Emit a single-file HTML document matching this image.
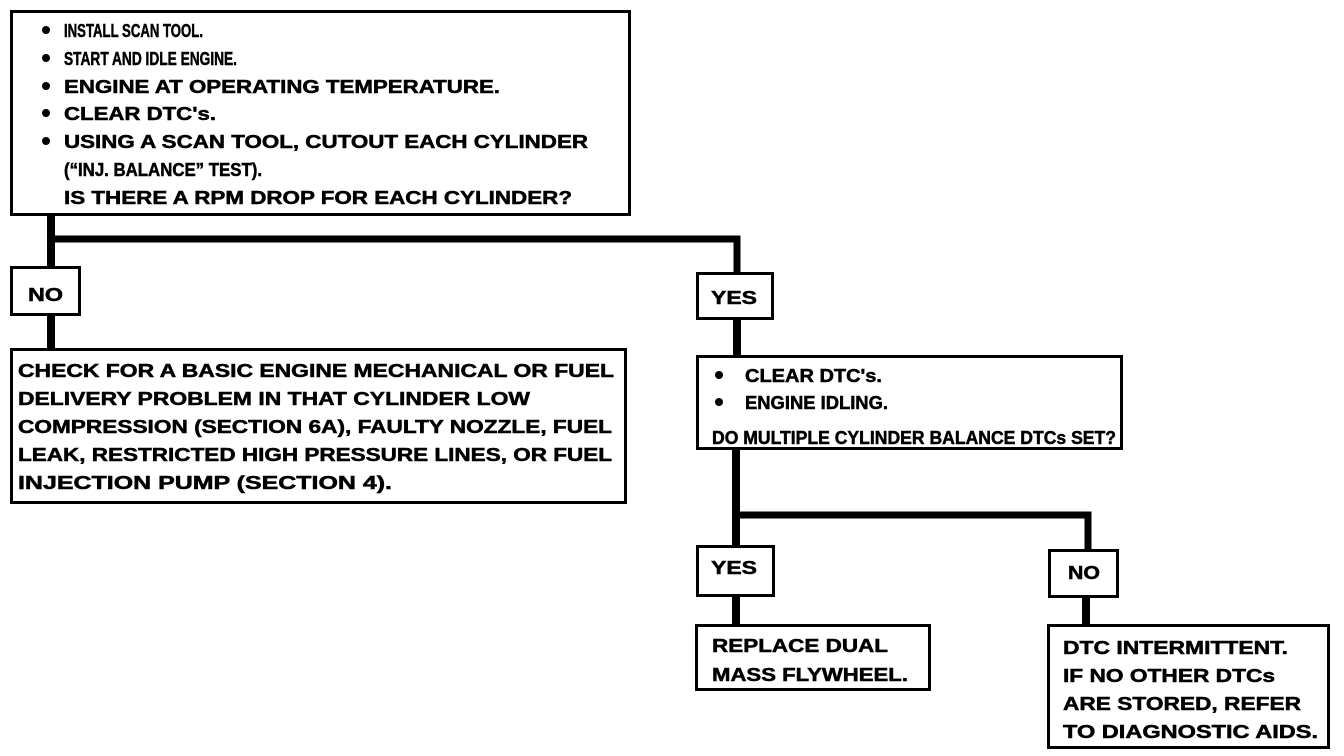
<!DOCTYPE html>
<html><head><meta charset="utf-8"><style>
html,body{margin:0;padding:0;background:#fff;}
svg{display:block}
text{font-family:"Liberation Sans",Arial,sans-serif;font-weight:bold;font-size:18px;fill:#000;stroke:#000;stroke-width:0.5px;}
</style></head><body>
<svg width="1344" height="756" viewBox="0 0 1344 756" xmlns="http://www.w3.org/2000/svg">
<g fill="none" stroke="#000">
<path d="M51 216 V348" stroke-width="8"/>
<path d="M51 239 H737 V272" stroke-width="7"/>
<path d="M737 319 V355" stroke-width="8"/>
<path d="M736 448 V625" stroke-width="8"/>
<path d="M736 515 H1088 V550" stroke-width="7"/>
<path d="M1086 596 V625" stroke-width="8"/>
<g stroke-width="3" fill="#fff">
<rect x="11.5" y="11.5" width="618" height="203"/>
<rect x="11.5" y="267.5" width="68" height="47"/>
<rect x="11.5" y="349.5" width="614" height="153"/>
<rect x="697.5" y="273.5" width="75" height="45"/>
<rect x="697.5" y="356.5" width="424" height="92"/>
<rect x="697.5" y="546.5" width="76" height="49"/>
<rect x="1049.5" y="550.5" width="68" height="46"/>
<rect x="696.5" y="625.5" width="233" height="64"/>
<rect x="1048.5" y="625.5" width="280" height="122"/>
</g>
</g>
<g fill="#000">
<circle cx="46" cy="30" r="4"/><circle cx="46" cy="58" r="4"/><circle cx="46" cy="86" r="4"/><circle cx="46" cy="113" r="4"/><circle cx="46" cy="141" r="4"/>
<circle cx="719" cy="375" r="4"/><circle cx="719" cy="402" r="4"/>
</g>
<text x="64" y="37" textLength="139" lengthAdjust="spacingAndGlyphs">INSTALL SCAN TOOL.</text>
<text x="64" y="65" textLength="173" lengthAdjust="spacingAndGlyphs">START AND IDLE ENGINE.</text>
<text x="64" y="93" textLength="436" lengthAdjust="spacingAndGlyphs">ENGINE AT OPERATING TEMPERATURE.</text>
<text x="64" y="120" textLength="152" lengthAdjust="spacingAndGlyphs">CLEAR DTC's.</text>
<text x="64" y="148" textLength="524" lengthAdjust="spacingAndGlyphs">USING A SCAN TOOL, CUTOUT EACH CYLINDER</text>
<text x="64" y="176" textLength="198" lengthAdjust="spacingAndGlyphs">(“INJ. BALANCE” TEST).</text>
<text x="64" y="204" textLength="508" lengthAdjust="spacingAndGlyphs">IS THERE A RPM DROP FOR EACH CYLINDER?</text>
<text x="28" y="301" textLength="35" lengthAdjust="spacingAndGlyphs">NO</text>
<text x="18" y="377" textLength="596" lengthAdjust="spacingAndGlyphs">CHECK FOR A BASIC ENGINE MECHANICAL OR FUEL</text>
<text x="18" y="405" textLength="512" lengthAdjust="spacingAndGlyphs">DELIVERY PROBLEM IN THAT CYLINDER LOW</text>
<text x="18" y="433" textLength="594" lengthAdjust="spacingAndGlyphs">COMPRESSION (SECTION 6A), FAULTY NOZZLE, FUEL</text>
<text x="18" y="461" textLength="594" lengthAdjust="spacingAndGlyphs">LEAK, RESTRICTED HIGH PRESSURE LINES, OR FUEL</text>
<text x="18" y="489" textLength="374" lengthAdjust="spacingAndGlyphs">INJECTION PUMP (SECTION 4).</text>
<text x="711" y="304" textLength="46" lengthAdjust="spacingAndGlyphs">YES</text>
<text x="745" y="382" textLength="137" lengthAdjust="spacingAndGlyphs">CLEAR DTC's.</text>
<text x="745" y="409" textLength="143" lengthAdjust="spacingAndGlyphs">ENGINE IDLING.</text>
<text x="712" y="444" textLength="404" lengthAdjust="spacingAndGlyphs">DO MULTIPLE CYLINDER BALANCE DTCs SET?</text>
<text x="711" y="574" textLength="46" lengthAdjust="spacingAndGlyphs">YES</text>
<text x="1068" y="579" textLength="32" lengthAdjust="spacingAndGlyphs">NO</text>
<text x="712" y="652" textLength="176" lengthAdjust="spacingAndGlyphs">REPLACE DUAL</text>
<text x="712" y="681" textLength="196" lengthAdjust="spacingAndGlyphs">MASS FLYWHEEL.</text>
<text x="1063" y="654" textLength="225" lengthAdjust="spacingAndGlyphs">DTC INTERMITTENT.</text>
<text x="1063" y="682" textLength="212" lengthAdjust="spacingAndGlyphs">IF NO OTHER DTCs</text>
<text x="1063" y="710" textLength="238" lengthAdjust="spacingAndGlyphs">ARE STORED, REFER</text>
<text x="1063" y="738" textLength="255" lengthAdjust="spacingAndGlyphs">TO DIAGNOSTIC AIDS.</text>
</svg>
</body></html>
